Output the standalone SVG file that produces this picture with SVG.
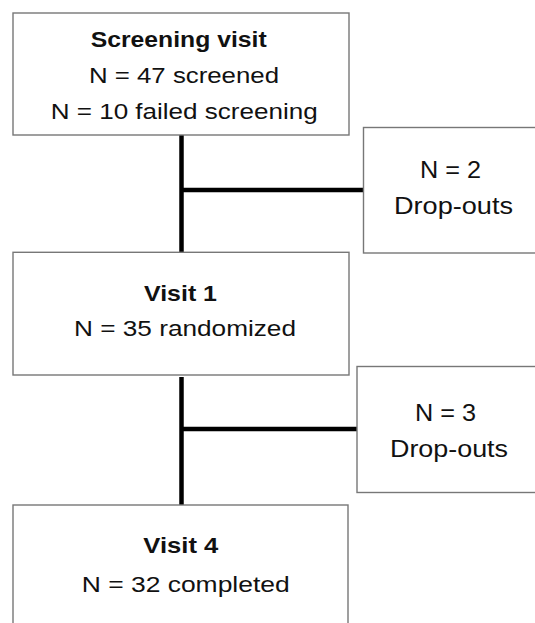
<svg xmlns="http://www.w3.org/2000/svg" width="535" height="623" viewBox="0 0 535 623">
<style>
.box{fill:#ffffff;stroke:#777777;stroke-width:1.4}
.t{font-family:"Liberation Sans",Arial,sans-serif;font-size:22px;fill:#111111}
.b{font-weight:bold}
.d{font-size:23px}
.conn{stroke:#000000;stroke-width:4.5;fill:none}
</style>
<rect width="535" height="623" fill="#ffffff"/>
<g id="connectors">
<line class="conn" x1="181.5" y1="135" x2="181.5" y2="252"/>
<line class="conn" x1="181.5" y1="190" x2="363.5" y2="190"/>
<line class="conn" x1="181.5" y1="377" x2="181.5" y2="505"/>
<line class="conn" x1="181.5" y1="429" x2="357" y2="429"/>
</g>
<g id="screening">
<rect class="box" x="13" y="13" width="336" height="122"/>
<text class="t b" x="90.7" y="46.7" textLength="176" lengthAdjust="spacingAndGlyphs">Screening visit</text>
<text class="t" x="89" y="83.3" textLength="190" lengthAdjust="spacingAndGlyphs">N = 47 screened</text>
<text class="t" x="50.7" y="119.3" textLength="267" lengthAdjust="spacingAndGlyphs">N = 10 failed screening</text>
</g>
<g id="dropout1">
<rect class="box" x="363.5" y="127.5" width="200" height="125.5"/>
<text class="t d" x="420" y="178.3" textLength="61" lengthAdjust="spacingAndGlyphs">N = 2</text>
<text class="t d" x="394" y="214" textLength="119" lengthAdjust="spacingAndGlyphs">Drop-outs</text>
</g>
<g id="visit1">
<rect class="box" x="13" y="252.3" width="336" height="122.7"/>
<text class="t b" x="144" y="301" textLength="73" lengthAdjust="spacingAndGlyphs">Visit 1</text>
<text class="t" x="74" y="335.7" textLength="222" lengthAdjust="spacingAndGlyphs">N = 35 randomized</text>
</g>
<g id="dropout2">
<rect class="box" x="357" y="366.5" width="200" height="126"/>
<text class="t d" x="415" y="421" textLength="61" lengthAdjust="spacingAndGlyphs">N = 3</text>
<text class="t d" x="390" y="456.7" textLength="118" lengthAdjust="spacingAndGlyphs">Drop-outs</text>
</g>
<g id="visit4">
<rect class="box" x="13" y="505" width="335" height="130"/>
<text class="t b" x="143.3" y="552.7" textLength="75" lengthAdjust="spacingAndGlyphs">Visit 4</text>
<text class="t" x="81.7" y="591.7" textLength="208" lengthAdjust="spacingAndGlyphs">N = 32 completed</text>
</g>
</svg>
